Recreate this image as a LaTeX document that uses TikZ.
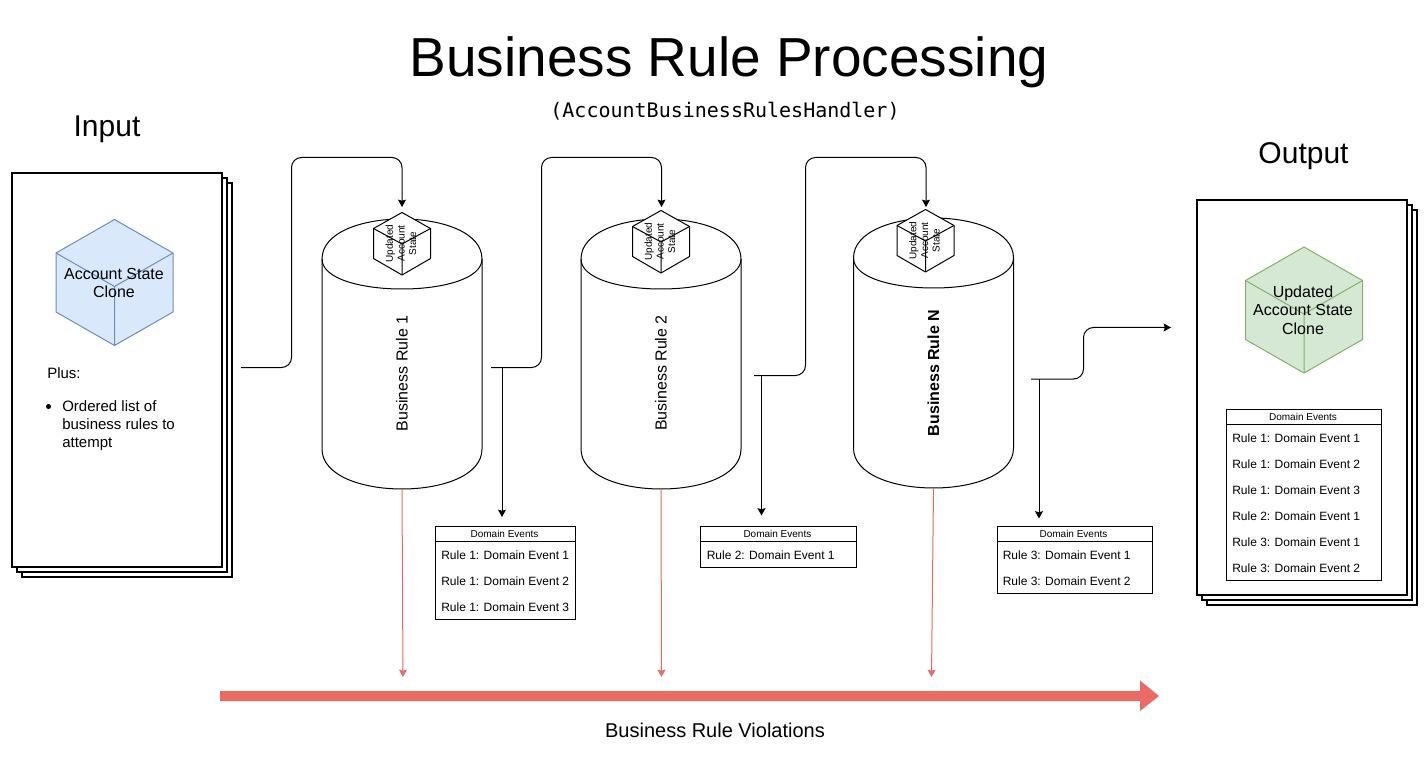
\documentclass[tikz,border=0pt]{standalone}
\usepackage{fontspec}
\setmainfont{Liberation Sans}
\setmonofont{DejaVu Sans Mono}
\usetikzlibrary{arrows.meta}
\definecolor{viored}{HTML}{EA6B66}
\definecolor{cubeblue}{HTML}{DAE8FC}
\definecolor{edgeblue}{HTML}{6C8EBF}
\definecolor{cubegreen}{HTML}{D5E8D4}
\definecolor{edgegreen}{HTML}{82B366}
\newcommand{\pxfont}[2]{\fontsize{#1}{#2}\selectfont}
\tikzset{
  thin line/.style={line width=.75pt,line cap=butt,line join=miter},
  flow/.style={thin line,rounded corners=7.5pt,-{Stealth[length=5.5pt,width=6pt,inset=.8pt]}},
  drop/.style={thin line,-{Stealth[length=5.5pt,width=6pt,inset=.8pt]}},
  violation/.style={thin line,draw=viored,-{Stealth[length=5.5pt,width=6pt,inset=.8pt]}},
  docpage/.style={draw=black,fill=white,line width=1.5pt,inner sep=0pt,outer sep=0pt,
    minimum width=157.5pt,minimum height=296pt},
  cylbox/.style={inner sep=0pt,outer sep=0pt,minimum width=120pt,minimum height=202.5pt},
  cyltext/.style={rotate=90,inner sep=0pt,font=\pxfont{12}{14}},
  tblbox/.style={draw=black,thin line,fill=white,inner sep=0pt,outer sep=0pt,anchor=north west},
  tblhead/.style={draw=black,thin line,inner sep=0pt,outer sep=0pt,anchor=north west,
    minimum height=11.25pt,font=\pxfont{7.5}{9}},
  row/.style={anchor=base west,inner sep=0pt,font=\pxfont{9}{11}},
  cubelabel/.style={align=center,inner sep=0pt,font=\pxfont{12}{13.8}},
  minilabel/.style={rotate=90,align=center,inner sep=0pt,font=\pxfont{7.5}{8.7}},
}
% big cube: #1 cx, #2 top y, #3 fill, #4 edge
\newcommand{\bigcube}[4]{%
  \draw[line width=.75pt,draw=#4,fill=#3,line join=round]
    (#1,#2) -- (#1+58.5,#2+33.5) -- (#1+58.5,#2+92.5) -- (#1,#2+126)
    -- (#1-58.5,#2+92.5) -- (#1-58.5,#2+33.5) -- cycle;
  \draw[line width=.75pt,draw=#4,line join=round]
    (#1-58.5,#2+33.5) -- (#1,#2+67) -- (#1+58.5,#2+33.5) (#1,#2+67) -- (#1,#2+126);
}
% small cube: #1 cx, #2 top y
\newcommand{\minicube}[2]{%
  \draw[thin line,fill=white,line join=round]
    (#1,#2) -- (#1+28.5,#2+16) -- (#1+28.5,#2+46) -- (#1,#2+62.5)
    -- (#1-28.5,#2+46) -- (#1-28.5,#2+16) -- cycle;
  \draw[thin line,line join=round]
    (#1-28.5,#2+16) -- (#1,#2+31.5) -- (#1+28.5,#2+16) (#1,#2+31.5) -- (#1,#2+62.5);
}
% cylinder: #1 left x, #2 top y, #3 name
\newcommand{\drumshape}[3]{%
  \node[cylbox,anchor=north west] (#3) at (#1,#2) {};
  \draw[thin line,fill=white]
    (#1,#2+40) .. controls (#1,#2-13.33) and (#1+160,#2-13.33) .. (#1+160,#2+40)
    -- (#1+160,#2+230) .. controls (#1+160,#2+283.33) and (#1,#2+283.33) .. (#1,#2+230) -- cycle;
  \draw[thin line] (#1,#2+40) .. controls (#1,#2+80) and (#1+160,#2+80) .. (#1+160,#2+40);
}
% table: #1 name, #2 x, #3 y, #4 w, #5 h
\newcommand{\evtable}[5]{%
  \node[tblbox,minimum width=#4*.75pt,minimum height=#5*.75pt] (#1) at (#2,#3) {};
  \node[tblhead,minimum width=#4*.75pt] (#1h) at (#2,#3) {\hspace*{-1.5pt}Domain Events};
}
\begin{document}
\begin{tikzpicture}[x=.75pt,y=-.75pt]
\useasboundingbox (0,0) rectangle (1428,759);
% titles
\node[inner sep=0pt,font=\pxfont{41.25}{48}] (title) at (729,62) {Business Rule Processing};
\node[inner sep=0pt,font=\ttfamily\pxfont{15}{18}] (subtitle) at (725,111) {(AccountBusinessRulesHandler)};
\node[inner sep=0pt,font=\pxfont{22.5}{26}] (inlabel) at (107,129) {Input};
\node[inner sep=0pt,font=\pxfont{22.5}{26}] (outlabel) at (1303.5,156) {Output};
% input stack
\node[docpage] (in3) at (126.55,380) {};
\node[docpage] (in2) at (121.55,375) {};
\node[docpage] (in1) at (116.55,370) {};
\bigcube{114.5}{219.5}{cubeblue}{edgeblue}
\node[cubelabel] (acct) at (114,283) {Account State\\Clone};
\node[anchor=base west,inner sep=0pt,font=\pxfont{11.25}{13.5}] (plus) at (47,378.5) {Plus:};
\node[circle,fill=black,inner sep=0pt,minimum size=3.8pt] (dot) at (48.5,406.5) {};
\node[anchor=north west,align=left,inner sep=0pt,font=\pxfont{11.25}{13.5}] (list) at (62,400) {Ordered list of\\business rules to\\attempt};
% output stack
\node[docpage] (out3) at (1311.55,407.5) {};
\node[docpage] (out2) at (1306.55,402.5) {};
\node[docpage] (out1) at (1301.55,397.5) {};
\bigcube{1304}{247}{cubegreen}{edgegreen}
\node[cubelabel] (upd) at (1303,310) {Updated\\Account State\\Clone};
% cylinders
\drumshape{322}{219}{r1}
\drumshape{581}{219}{r2}
\drumshape{853.5}{218}{r3}
\node[cyltext] (r1t) at (402,373.5) {Business Rule 1};
\node[cyltext] (r2t) at (661,373) {Business Rule 2};
\node[cyltext,font=\bfseries\pxfont{12}{14}] (r3t) at (933.5,373) {Business Rule N};
% small cubes
\minicube{402}{212.5}
\minicube{661}{210.5}
\minicube{925.5}{209.5}
\node[minilabel] (m1) at (401,243.5) {Updated\\Account\\State};
\node[minilabel] (m2) at (660,241.5) {Updated\\Account\\State};
\node[minilabel] (m3) at (924.5,240.5) {Updated\\Account\\State};
% free ends of the connectors
\coordinate (a1) at (241,367.5);
\coordinate (a2) at (491,367.5);
\coordinate (a3) at (754,375.5);
\coordinate (a4) at (1031,379);
\coordinate (t1) at (402,207);
\coordinate (t2) at (661.5,207);
\coordinate (t3) at (926,207);
\coordinate (t4) at (1171,327.5);
\coordinate (b1) at (502,367.5);
\coordinate (b2) at (761.5,375.5);
\coordinate (b3) at (1039,379);
\coordinate (e1) at (502,517);
\coordinate (e2) at (761.5,515.5);
\coordinate (e3) at (1039,518.5);
\coordinate (v1) at (403,677);
\coordinate (v2) at (661.5,677);
\coordinate (v3) at (931.5,677);
% connectors
\draw[flow] (a1) -- (291.5,367.5) -- (291.5,157.5) -- (402,157.5) -- (t1);
\draw[flow] (a2) -- (541.5,367.5) -- (541.5,157.5) -- (661.5,157.5) -- (t2);
\draw[flow] (a3) -- (805.5,375.5) -- (805.5,157.5) -- (926,157.5) -- (t3);
\draw[flow] (a4) -- (1083.5,379) -- (1083.5,327.5) -- (t4);
\draw[drop] (b1) -- (e1);
\draw[drop] (b2) -- (e2);
\draw[drop] (b3) -- (e3);
\draw[violation] (r1.south) -- (v1);
\draw[violation] (r2.south) -- (v2);
\draw[violation] (r3.south) -- (v3);
\fill[viored] (220,691) -- (1140,691) -- (1140,680.5) -- (1159,696) -- (1140,711) -- (1140,701) -- (220,701) -- cycle;
\node[inner sep=0pt,font=\pxfont{15}{18}] (viol) at (715,730) {Business Rule Violations};
% tables
\evtable{d1}{435.5}{526.5}{140}{93}
\node[row] at (441,559) {Rule 1: Domain Event 1};
\node[row] at (441,585) {Rule 1: Domain Event 2};
\node[row] at (441,611) {Rule 1: Domain Event 3};
\evtable{d2}{700.8}{526.5}{155.2}{41}
\node[row] at (706.5,559) {Rule 2: Domain Event 1};
\evtable{d3}{997}{526.5}{155}{67}
\node[row] at (1002.5,559) {Rule 3: Domain Event 1};
\node[row] at (1002.5,585) {Rule 3: Domain Event 2};
\evtable{d4}{1226.5}{409.5}{155}{171}
\node[row] at (1232,442) {Rule 1: Domain Event 1};
\node[row] at (1232,468) {Rule 1: Domain Event 2};
\node[row] at (1232,494) {Rule 1: Domain Event 3};
\node[row] at (1232,520) {Rule 2: Domain Event 1};
\node[row] at (1232,546) {Rule 3: Domain Event 1};
\node[row] at (1232,572) {Rule 3: Domain Event 2};
\end{tikzpicture}
\end{document}
